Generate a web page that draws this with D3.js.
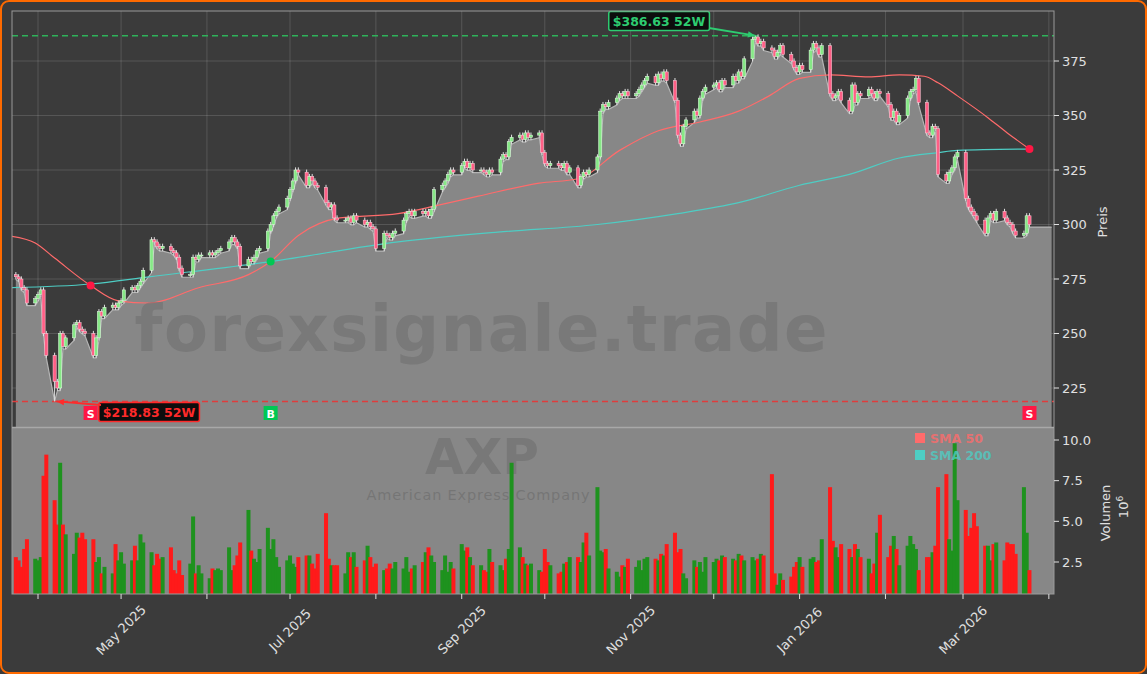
<!DOCTYPE html>
<html><head><meta charset="utf-8">
<script src="https://cdn.jsdelivr.net/npm/d3@7/dist/d3.min.js"></script>
<style>html,body{margin:0;padding:0;background:#3b3b3b;}svg{display:block;font-family:"DejaVu Sans",sans-serif;}</style>
</head><body><svg id="c" width="1147" height="674"></svg>
<script>
const closes = [
276,275,271,270,264, 266,268,270,250,240, 228,225,250,244,248, 254,255,252,251,250,
240,248,260,258,262, 263,262,264,265,270, 271,270,272,274,279, 293,292,290,289,290,
288,287,285,280,277, 277,285,284,286,286, 287,286,287,288,289, 292,294,292,290,281,
284,283,285,288,289, 297,300,304,306,308, 312,316,320,325,324, 318,322,320,318,317,
310,308,309,303,302, 302,303,301,304,302, 300,301,299,298,289, 296,295,294,296,297,
302,305,306,304,306, 305,306,304,307,316, 318,320,323,325,324, 327,329,326,328,325,
325,324,323,325,324, 330,332,331,338,340, 341,339,342,340,341, 342,333,328,327,328,
327,326,328,324,326, 318,322,324,323,325, 331,352,355,354,356, 358,360,359,361,359,
360,362,364,366,368, 365,369,367,370,366, 357,341,337,345,348, 352,350,358,361,363,
364,365,362,366,364, 368,366,370,368,376, 385,386,383,384,381, 380,377,379,382,378,
375,372,370,373,371, 380,383,381,378,382, 360,358,359,361,357, 352,364,356,360,359,
362,360,358,361,360, 355,349,352,347,350, 358,361,362,367,356, 342,341,345,344,323,
320,324,326,331,333, 312,308,306,304,302, 296,303,305,302,306, 303,301,300,297,295,
296,304,300];
const volumes = [
2.8,2.6,2.2,3.3,3.9, 2.7,2.6,2.8,7.8,9.1, 6.3,4.8,8.6,4.8,4.2, 3.0,4.3,4.0,4.3,3.9,
3.9,2.5,2.8,1.8,2.2, 1.8,3.6,2.6,3.1,2.4, 2.6,3.5,2.6,4.2,3.7, 3.1,2.3,3.0,2.7,2.8,
3.4,2.0,1.8,2.6,1.7, 2.4,5.3,1.8,2.3,1.8, 1.5,2.1,2.0,2.1,2.0, 3.4,2.0,2.3,2.9,3.7,
5.7,3.2,2.7,2.5,3.3, 4.6,3.3,3.9,2.8,2.2, 2.6,2.9,2.4,2.2,2.8, 2.9,2.9,2.4,2.1,3.0,
5.5,2.7,2.3,2.3,2.3, 1.8,3.1,2.8,3.1,2.2, 2.6,3.5,2.8,2.2,2.4, 2.0,2.1,2.4,2.1,2.5,
2.1,2.8,1.9,2.1,2.3, 2.5,3.1,3.4,2.9,2.5, 2.0,2.9,1.9,2.5,2.1, 3.6,3.2,3.4,2.8,2.3,
2.3,2.0,1.9,3.3,2.5, 2.3,2.0,2.7,3.3,8.6, 3.4,2.8,2.4,2.3,2.4, 2.0,1.9,3.3,2.5,2.3,
1.8,1.9,2.4,2.5,2.8, 2.8,2.5,3.7,4.3,2.9, 7.1,3.2,3.1,3.3,2.1, 1.9,1.6,2.3,2.2,2.7,
2.2,2.6,2.0,2.7,2.8, 2.7,2.6,3.0,2.9,3.6, 4.3,3.1,3.3,1.8,1.5, 2.6,2.2,2.5,1.9,2.8,
2.5,2.7,2.6,2.9,2.8, 2.7,2.6,3.0,2.9,2.6, 2.8,2.6,2.7,3.0,2.9, 7.9,1.8,1.1,1.8,1.4,
1.6,2.2,2.5,2.8,2.2, 2.7,2.8,2.5,2.6,3.9, 7.1,3.8,3.4,2.8,3.6, 3.3,2.8,3.6,3.3,2.8,
2.7,1.8,2.4,4.3,5.4, 2.8,3.5,4.1,3.3,2.3, 3.5,4.1,3.6,3.3,2.0, 2.8,2.8,3.1,3.5,7.1,
7.9,3.9,3.2,9.8,6.3, 5.7,4.1,4.6,5.5,4.7, 3.5,3.5,2.6,3.6,3.7, 2.6,3.7,3.6,3.6,3.0,
7.1,4.3,2.0];
const smaDates = ["2025-03-22","2025-03-31","2025-04-07","2025-04-20","2025-04-30","2025-05-11","2025-05-29","2025-06-16","2025-06-24","2025-07-04","2025-07-19","2025-08-09","2025-08-24","2025-09-07","2025-09-29","2025-10-13","2025-10-28","2025-11-11","2025-11-26","2025-12-10","2025-12-21","2026-01-01","2026-01-12","2026-01-26","2026-02-06","2026-02-15","2026-02-20","2026-02-27","2026-03-10","2026-03-17","2026-03-25"];
const sma50 = [294.7,291.5,284.6,272,265,264,271,277,283,295,303,305,309,313,319,321,334,343,347,352,359,367,368.6,367.7,368.6,368,365,359,349,342,334.6];
const sma200Dates = ["2025-03-22","2025-04-20","2025-05-11","2025-06-24","2025-08-09","2025-09-14","2025-10-20","2025-11-18","2025-12-10","2026-01-01","2026-01-19","2026-02-06","2026-02-20","2026-02-27","2026-03-25"];
const sma200 = [271,272.7,276,283,292,296.5,300,305,310,318,323,330.5,333,334,334.6];
const priceTicks = [225,250,275,300,325,350,375];
const volTicks = [2.5,5.0,7.5,10.0];
const high52 = 386.63, low52 = 218.83;
const signals = [{d:"2025-04-20",t:"S",v:272},{d:"2025-06-24",t:"B",v:283},{d:"2026-03-25",t:"S",v:334.6}];

const P = d3.timeParse("%Y-%m-%d");
const dates=[]; {let d=new Date(2025,2,24); while(dates.length<closes.length){const w=d.getDay(); if(w>0&&w<6) dates.push(new Date(d)); d=new Date(d.getFullYear(),d.getMonth(),d.getDate()+1);}}
const bars = closes.map((c,i)=>{const o=i?closes[i-1]:c+1; return {d:dates[i],o,c,h:Math.max(o,c)+1.2,l:Math.min(o,c)-1.2,v:volumes[i]};});
bars[10].l=low52; bars[ bars.findIndex(b=>b.c===386) ].h=high52;

const svg=d3.select("#c");
svg.append("rect").attr("x",1).attr("y",1).attr("width",1145).attr("height",672).attr("rx",8).attr("fill","#3b3b3b").attr("stroke","#ff6a00").attr("stroke-width",2);
const L=12,R=1054,T=11,PB=427,VT=428,VB=594;
const x=d3.scaleTime().domain([new Date(2025,3,1),new Date(2026,2,1)]).range([38,963]);
const y=d3.scaleLinear().domain([225,375]).range([388,61]);
const yv=d3.scaleLinear().domain([2.5,10]).range([562,440]);
const defs=svg.append("defs");
defs.append("clipPath").attr("id","cp").append("rect").attr("x",L).attr("y",T).attr("width",R-L).attr("height",PB-T);
defs.append("clipPath").attr("id","cv").append("rect").attr("x",L).attr("y",VT).attr("width",R-L).attr("height",VB-VT);
const months=d3.timeMonth.range(new Date(2025,3,1),new Date(2026,3,2));
const gp=svg.append("g").attr("clip-path","url(#cp)");
gp.selectAll(".vg").data(months).join("line").attr("x1",d=>x(d)).attr("x2",d=>x(d)).attr("y1",T).attr("y2",PB).attr("stroke","#ffffff").attr("stroke-opacity",0.14);
gp.selectAll(".hg").data(priceTicks).join("line").attr("x1",L).attr("x2",R).attr("y1",d=>y(d)).attr("y2",d=>y(d)).attr("stroke","#ffffff").attr("stroke-opacity",0.14);
const areaData=bars.map(b=>({d:b.d,v:b.l})); areaData.push({d:new Date(2026,3,2),v:bars[bars.length-1].l});
const ar=d3.area().x(d=>x(d.d)).y0(PB).y1(d=>y(d.v));
gp.append("path").datum(areaData).attr("d",ar).attr("fill","#878787");
gp.append("path").datum(areaData).attr("d",d3.line().x(d=>x(d.d)).y(d=>y(d.v))).attr("fill","none").attr("stroke","#b5b5b5").attr("stroke-width",1.2);
svg.append("text").attr("x",481).attr("y",351).attr("text-anchor","middle").attr("font-size",64).attr("font-weight","bold").attr("fill","#6e6e6e").attr("fill-opacity",0.55).attr("textLength",693).text("forexsignale.trade");
svg.append("rect").attr("x",L).attr("y",VT).attr("width",R-L).attr("height",VB-VT).attr("fill","#878787");
svg.append("text").attr("x",482).attr("y",474).attr("text-anchor","middle").attr("font-size",50).attr("font-weight","bold").attr("fill","#6e6e6e").attr("fill-opacity",0.6).text("AXP");
svg.append("text").attr("x",478).attr("y",500).attr("text-anchor","middle").attr("font-size",14.5).attr("fill","#6e6e6e").attr("fill-opacity",0.7).attr("textLength",223).text("American Express Company");
const gv=svg.append("g").attr("clip-path","url(#cv)");
gv.selectAll("rect.v").data(bars).join("rect").attr("x",d=>x(d.d)-2).attr("width",4).attr("y",d=>yv(d.v)).attr("height",d=>VB-yv(d.v)).attr("fill",d=>d.c>=d.o?"#1e921e":"#ff1a1a");
gp.append("line").attr("x1",L).attr("x2",R).attr("y1",y(high52)).attr("y2",y(high52)).attr("stroke","#2eb35a").attr("stroke-width",1.5).attr("stroke-dasharray","6,4");
gp.append("line").attr("x1",L).attr("x2",R).attr("y1",y(low52)).attr("y2",y(low52)).attr("stroke","#e03c3c").attr("stroke-width",1.5).attr("stroke-dasharray","6,4");
const sl=d3.line().curve(d3.curveMonotoneX).x(d=>x(d[0])).y(d=>y(d[1]));
gp.append("path").attr("d",sl(sma200Dates.map((s,i)=>[P(s),sma200[i]]))).attr("fill","none").attr("stroke","#4ecdc4").attr("stroke-width",1.2);
gp.append("path").attr("d",sl(smaDates.map((s,i)=>[P(s),sma50[i]]))).attr("fill","none").attr("stroke","#ff6b6b").attr("stroke-width",1.2);
const cg=gp.append("g");
cg.selectAll("line.w").data(bars).join("line").attr("x1",d=>x(d.d)).attr("x2",d=>x(d.d)).attr("y1",d=>y(d.h)).attr("y2",d=>y(d.l)).attr("stroke","#e0e0e0").attr("stroke-width",1);
cg.selectAll("rect.b").data(bars).join("rect").attr("x",d=>x(d.d)-1.6).attr("width",3.2).attr("y",d=>y(Math.max(d.o,d.c))).attr("height",d=>Math.max(1,Math.abs(y(d.o)-y(d.c)))).attr("fill",d=>d.c>=d.o?"#86e886":"#ff5f86").attr("stroke",d=>d.c>=d.o?"#e6ffe6":"#ffd0dc").attr("stroke-width",0.5);
signals.forEach(s=>{
  const cx=x(P(s.d)); const col=s.t==="B"?"#00c853":"#ff1744";
  gp.append("circle").attr("cx",cx).attr("cy",y(s.v)).attr("r",4).attr("fill",col);
  svg.append("rect").attr("x",cx-7).attr("y",406).attr("width",14).attr("height",14).attr("fill",col);
  svg.append("text").attr("x",cx).attr("y",417.5).attr("text-anchor","middle").attr("font-size",11).attr("font-weight","bold").attr("fill","#fff").text(s.t);
});
function ann(txt,cx,cy,col,tx,ty,fx,fy){
  const t=svg.append("text").attr("x",cx).attr("y",cy+4.5).attr("text-anchor","middle").attr("font-size",12.5).attr("font-weight","bold").attr("fill",col).text(txt);
  const bb=t.node().getBBox();
  svg.append("rect").attr("x",bb.x-4).attr("y",bb.y-2).attr("width",bb.width+8).attr("height",bb.height+4).attr("rx",2).attr("fill","#0d0d0d").attr("stroke",col).attr("stroke-width",1.5);
  t.raise();
  const a=svg.append("g");
  a.append("line").attr("x1",fx).attr("y1",fy).attr("x2",tx).attr("y2",ty).attr("stroke",col).attr("stroke-width",1.8);
  const ang=Math.atan2(ty-fy,tx-fx);
  const p=[[tx,ty],[tx-8*Math.cos(ang-0.4),ty-8*Math.sin(ang-0.4)],[tx-8*Math.cos(ang+0.4),ty-8*Math.sin(ang+0.4)]];
  a.append("path").attr("d","M"+p.join("L")+"Z").attr("fill",col);
}
ann("$386.63 52W",659,21,"#2ecc71",x(P("2025-12-16")),y(high52),709,28);
ann("$218.83 52W",149,412,"#ff2a2a",x(bars[10].d)+2,y(low52),101,405);
svg.append("rect").attr("x",L).attr("y",T).attr("width",R-L).attr("height",VB-T).attr("fill","none").attr("stroke","#9a9a9a").attr("stroke-width",1);
svg.append("line").attr("x1",L).attr("x2",R).attr("y1",PB+0.5).attr("y2",PB+0.5).attr("stroke","#a8a8a8").attr("stroke-width",1.5);
const txt="#e0e0e0";
priceTicks.forEach(t=>{svg.append("line").attr("x1",R).attr("x2",R+5).attr("y1",y(t)).attr("y2",y(t)).attr("stroke",txt);
  svg.append("text").attr("x",R+8).attr("y",y(t)+4.5).attr("font-size",13).attr("fill",txt).text(t);});
volTicks.forEach(t=>{svg.append("line").attr("x1",R).attr("x2",R+5).attr("y1",yv(t)).attr("y2",yv(t)).attr("stroke",txt);
  svg.append("text").attr("x",R+8).attr("y",yv(t)+4.5).attr("font-size",13).attr("fill",txt).text(t.toFixed(1));});
svg.append("text").attr("transform","translate(1107,222) rotate(-90)").attr("text-anchor","middle").attr("font-size",13).attr("fill",txt).text("Preis");
svg.append("text").attr("transform","translate(1110,513) rotate(-90)").attr("text-anchor","middle").attr("font-size",13).attr("fill",txt).text("Volumen");
const ex=svg.append("text").attr("transform","translate(1128,507) rotate(-90)").attr("text-anchor","middle").attr("font-size",13).attr("fill",txt);
ex.append("tspan").text("10"); ex.append("tspan").attr("dy",-5).attr("font-size",9).text("6");
[["SMA 50","#ff6b6b",438],["SMA 200","#4ecdc4",455]].forEach(([n,c,yy])=>{
  svg.append("rect").attr("x",915).attr("y",yy-5).attr("width",10).attr("height",10).attr("fill",c);
  svg.append("text").attr("x",930).attr("y",yy+4.5).attr("font-size",12.5).attr("font-weight","bold").attr("fill",c).attr("fill-opacity",0.8).text(n);});
months.forEach((m,i)=>{const xx=x(m); if(xx<L||xx>R) return;
  svg.append("line").attr("x1",xx).attr("x2",xx).attr("y1",VB).attr("y2",VB+5).attr("stroke",txt);
  if(m.getMonth()%2===0) svg.append("text").attr("transform",`translate(${xx},${VB+36}) rotate(-45)`).attr("text-anchor","middle").attr("dy","0.35em").attr("font-size",13).attr("fill",txt).text(d3.timeFormat("%b %Y")(m));});
</script></body></html>
